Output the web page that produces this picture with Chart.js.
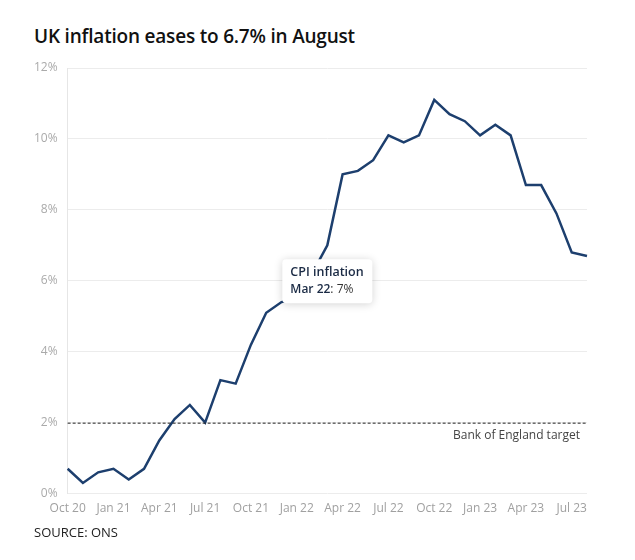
<!DOCTYPE html>
<html>
<head>
<meta charset="utf-8">
<script src="https://cdn.jsdelivr.net/npm/chart.js@4"></script>
<style>
  body { margin: 0; background: #fff; font-family: "Open Sans", sans-serif; }
  #wrap { position: relative; width: 635px; height: 560px; }
  h1 { position: absolute; left: 34px; top: 23px; margin: 0; font-size: 19px; font-weight: 600; color: #111; letter-spacing: -0.2px; }
  #source { position: absolute; left: 34px; top: 523px; font-size: 13px; color: #222; }
  canvas { position: absolute; left: 0; top: 0; }
</style>
</head>
<body>
<div id="wrap">
  <h1>UK inflation eases to 6.7% in August</h1>
  <canvas id="lineChart" width="635" height="560"></canvas>
  <div id="source">SOURCE: ONS</div>
</div>
<script>
const months = ['Oct 20','Nov 20','Dec 20','Jan 21','Feb 21','Mar 21','Apr 21','May 21','Jun 21','Jul 21','Aug 21','Sep 21',
  'Oct 21','Nov 21','Dec 21','Jan 22','Feb 22','Mar 22','Apr 22','May 22','Jun 22','Jul 22','Aug 22','Sep 22',
  'Oct 22','Nov 22','Dec 22','Jan 23','Feb 23','Mar 23','Apr 23','May 23','Jun 23','Jul 23','Aug 23'];
const cpi = [0.7, 0.3, 0.6, 0.7, 0.4, 0.7, 1.5, 2.1, 2.5, 2.0, 3.2, 3.1,
  4.2, 5.1, 5.4, 5.5, 6.2, 7.0, 9.0, 9.1, 9.4, 10.1, 9.9, 10.1,
  11.1, 10.7, 10.5, 10.1, 10.4, 10.1, 8.7, 8.7, 7.9, 6.8, 6.7];
const tickLabels = ['Oct 20','Jan 21','Apr 21','Jul 21','Oct 21','Jan 22','Apr 22','Jul 22','Oct 22','Jan 23','Apr 23','Jul 23'];
const yTicks = [0, 2, 4, 6, 8, 10, 12];
const target = 2;
const tooltipMonth = 'Mar 22';

// dashed target line + label, and the fixed tooltip box
const extras = {
    id: 'extras',
    afterDatasetsDraw(chart) {
        const { ctx, chartArea, scales: { x, y } } = chart;
        const ty = y.getPixelForValue(target);
        ctx.save();
        ctx.strokeStyle = '#222';
        ctx.lineWidth = 1;
        ctx.setLineDash([3, 2]);
        ctx.beginPath();
        ctx.moveTo(chartArea.left, ty + 0.5);
        ctx.lineTo(chartArea.right, ty + 0.5);
        ctx.stroke();
        ctx.setLineDash([]);
        ctx.fillStyle = '#444';
        ctx.font = '12px "Open Sans"';
        ctx.textAlign = 'right';
        ctx.textBaseline = 'middle';
        ctx.fillText('Bank of England target', chartArea.right - 7, ty + 13);

        // tooltip
        const i = months.indexOf(tooltipMonth);
        const px = x.getPixelForValue(i);
        const py = y.getPixelForValue(cpi[i]);
        const w = 90, h = 44;
        const bx = px - w / 2, by = py + 14;
        ctx.shadowColor = 'rgba(0,0,0,0.18)';
        ctx.shadowBlur = 8;
        ctx.shadowOffsetY = 1;
        ctx.fillStyle = '#fff';
        ctx.beginPath();
        ctx.roundRect(bx, by, w, h, 4);
        ctx.fill();
        ctx.shadowColor = 'transparent';
        ctx.textAlign = 'left';
        ctx.fillStyle = '#1a2a44';
        ctx.font = '600 12.5px "Open Sans"';
        ctx.fillText('CPI inflation', bx + 8, by + 13);
        ctx.font = '600 12px "Open Sans"';
        const lbl = tooltipMonth;
        ctx.fillText(lbl, bx + 8, by + 30);
        const lw = ctx.measureText(lbl).width;
        ctx.font = '12px "Open Sans"';
        ctx.fillStyle = '#333';
        ctx.fillText(': ' + cpi[i] + '%', bx + 8 + lw, by + 30);
        ctx.restore();
    }
};

const ctx1 = document.getElementById('lineChart').getContext('2d');
const lineChart = new Chart(ctx1, {
    type: 'line',
    data: {
        labels: months,
        datasets: [{
            label: 'CPI inflation',
            data: cpi,
            borderColor: '#1d3f6e',
            borderWidth: 2.5,
            pointRadius: 0,
            tension: 0,
            fill: false
        }]
    },
    options: {
        responsive: false,
        animation: false,
        layout: { padding: { left: 24, right: 48, top: 68, bottom: 36 } },
        plugins: { legend: { display: false }, tooltip: { enabled: false } },
        scales: {
            x: {
                offset: false,
                grid: { display: false, drawTicks: false },
                border: { display: false },
                ticks: {
                    autoSkip: false,
                    maxRotation: 0,
                    padding: 8,
                    color: '#a0a0a0',
                    font: { family: 'Open Sans', size: 12 },
                    callback: (v, i) => tickLabels.includes(months[i]) ? months[i] : ''
                }
            },
            y: {
                min: 0,
                max: 12,
                afterBuildTicks: axis => { axis.ticks = yTicks.map(v => ({ value: v })); },
                grid: { color: '#ececec', drawTicks: false },
                border: { display: true, color: '#e6e6e6' },
                ticks: {
                    padding: 10,
                    color: '#aaa',
                    font: { family: 'Open Sans', size: 12 },
                    callback: v => v + '%'
                }
            }
        }
    },
    plugins: [extras]
});
</script>
</body>
</html>
